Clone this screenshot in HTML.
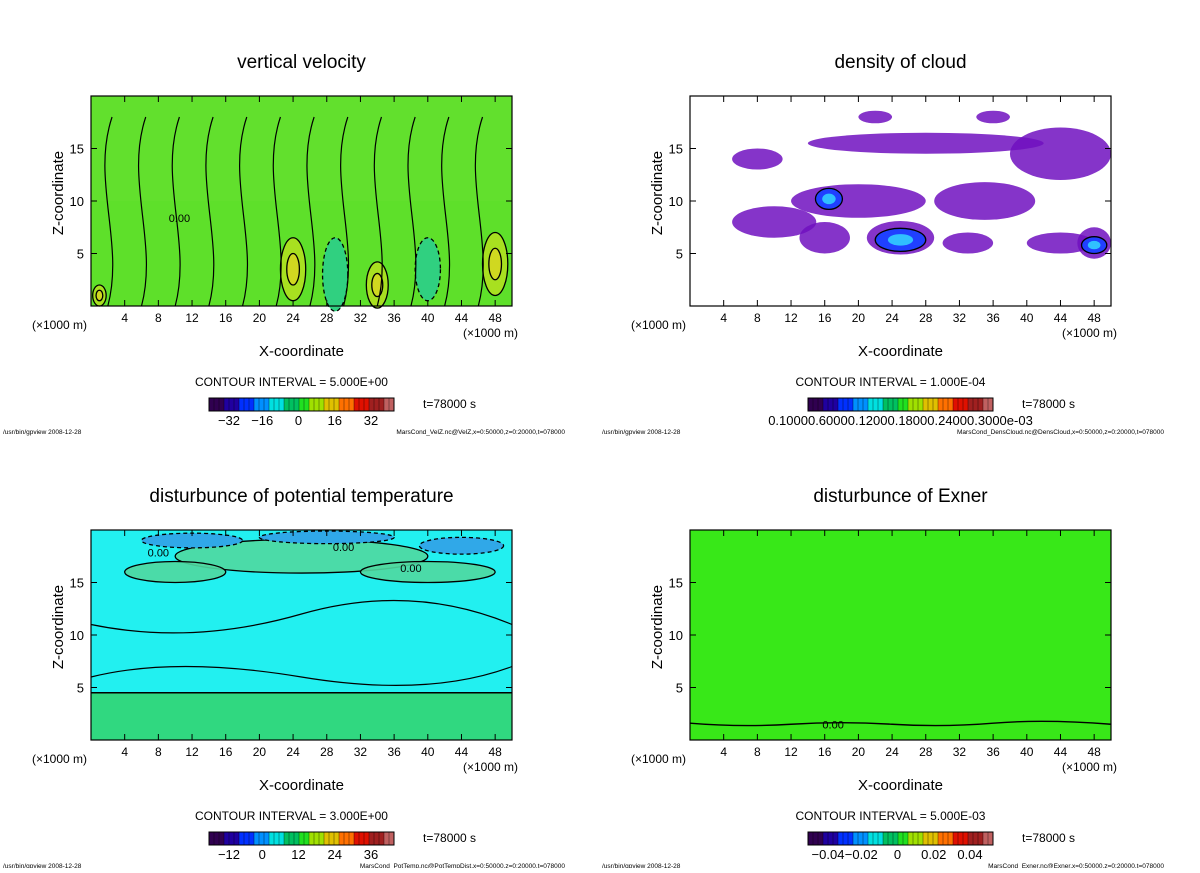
<!DOCTYPE html>
<html><head><meta charset="utf-8"><style>
body{margin:0;background:#fff;width:1200px;height:868px;overflow:hidden}
svg{font-family:"Liberation Sans",sans-serif}
</style></head><body>
<svg id="s" width="1200" height="868" viewBox="0 0 1200 868"></svg>
<script>
const xTicks=[4,8,12,16,20,24,28,32,36,40,44,48];
const zTicks=[5,10,15];
const titles=["vertical velocity","density of cloud","disturbunce of potential temperature","disturbunce of Exner"];
const intervals=["5.000E+00","1.000E-04","3.000E+00","5.000E-03"];
const cbLabels=[["-32","-16","0","16","32"],["0.10000.60000.12000.18000.24000.3000e-03"],["-12","0","12","24","36"],["-0.04","-0.02","0","0.02","0.04"]];
const files=["MarsCond_VelZ.nc@VelZ,x=0:50000,z=0:20000,t=078000","MarsCond_DensCloud.nc@DensCloud,x=0:50000,z=0:20000,t=078000","MarsCond_PotTemp.nc@PotTempDist,x=0:50000,z=0:20000,t=078000","MarsCond_Exner.nc@Exner,x=0:50000,z=0:20000,t=078000"];
// blobs: x, z, rx, rz (data units)
const velUp=[[24,3.5,1.5,3],[34,2,1.3,2.2],[48,4,1.5,3],[1,1,0.8,1]];
const velDown=[[29,3,1.5,3.5],[40,3.5,1.5,3]];
const cloudBlobs=[[10,8,5,1.5],[20,10,8,1.6],[35,10,6,1.8],[44,14.5,6,2.5],[28,15.5,14,1],[16,6.5,3,1.5],[25,6.5,4,1.6],[33,6,3,1],[44,6,4,1],[48,6,2,1.5],[8,14,3,1],[22,18,2,0.6],[36,18,2,0.6]];
const cloudCores=[[16.5,10.2,1.6,1],[25,6.3,3,1.1],[48,5.8,1.5,0.8]];
const ptWarm=[[25,17.5,15,1.6],[10,16,6,1],[40,16,8,1]];
const ptCold=[[12,19,6,0.7],[28,19.3,8,0.6],[44,18.5,5,0.8]];
const S=document.getElementById('s');
const NS="http://www.w3.org/2000/svg";
function el(t,a,p){const e=document.createElementNS(NS,t);for(const k in a)e.setAttribute(k,a[k]);(p||S).appendChild(e);return e;}
function txt(x,y,s,sz,anchor,p){const e=el('text',{x:x,y:y,'font-size':sz,'text-anchor':anchor||'middle',fill:'#000'},p);e.textContent=s;return e;}
const panels=[[91,96],[690,96],[91,530],[690,530]];
panels.forEach((P,i)=>{
 const g=el('g',{});
 
 
 const L=P[0],T=P[1],W=421,H=210;
 const X=v=>L+v/50*W, Z=v=>T+H-v/20*H;
 const t=txt(L+W/2,T-28,titles[i],19,'middle',g);
 
 
 const bgc=['#5ee02a','#ffffff','#22f0f0','#38e818'][i];
 const bg=el('rect',{x:L,y:T,width:W,height:H,fill:bgc},g);
 
 
 const ell=(b,fill,op,stroke,dash)=>{const e=el('ellipse',{cx:X(b[0]),cy:Z(b[1]),rx:b[2]/50*W,ry:b[3]/20*H,fill:fill,'fill-opacity':op,stroke:stroke||'none','stroke-width':1.3},g);if(dash)e.setAttribute('stroke-dasharray','4 3');return e;};
 if(i==0){
  el('rect',{x:L,y:Z(20),width:W,height:Z(10)-Z(20),fill:'#66e030','fill-opacity':0.5},g);
  velUp.forEach(b=>{const e=ell(b,'#a8e020',1,'#000');ell([b[0],b[1],b[2]*0.5,b[3]*0.5],'#d0d820',1,'#000');});
  velDown.forEach(b=>{const e=ell(b,'#30d080',1,'#000',true);});
  for(let k=0;k<12;k++){el('path',{d:`M${X(k*4+2)},${Z(0)} C${X(k*4+4)},${Z(6)} ${X(k*4)},${Z(12)} ${X(k*4+2.5)},${Z(18)}`,fill:'none',stroke:'#000','stroke-width':1.2},g);}
 }
 if(i==1){
  cloudBlobs.forEach(b=>{const e=ell(b,'#7010c0',0.85);});
  cloudCores.forEach(b=>{ell(b,'#2040ff',1,'#000');ell([b[0],b[1],b[2]*0.5,b[3]*0.5],'#30c0ff',1);});
 }
 if(i==2){
  el('rect',{x:L,y:Z(4.5),width:W,height:Z(0)-Z(4.5),fill:'#30d880'},g);
  el('line',{x1:L,y1:Z(4.5),x2:L+W,y2:Z(4.5),stroke:'#000','stroke-width':1.4},g);
  ptWarm.forEach(b=>{const e=ell(b,'#50d8a0',0.9,'#000');});
  ptCold.forEach(b=>{const e=ell(b,'#30a8e8',1,'#000',true);});
  el('path',{d:`M${L},${Z(6)} Q${X(10)},${Z(8)} ${X(25)},${Z(6)} T${X(50)},${Z(7)}`,fill:'none',stroke:'#000','stroke-width':1.2},g);
  el('path',{d:`M${L},${Z(11)} Q${X(12)},${Z(9)} ${X(25)},${Z(12)} T${X(50)},${Z(11)}`,fill:'none',stroke:'#000','stroke-width':1.2},g);
  txt(X(8),Z(17.5),'0.00',11,'middle',g);txt(X(30),Z(18),'0.00',11,'middle',g);txt(X(38),Z(16),'0.00',11,'middle',g);
 }
 if(i==3){
  el('path',{d:`M${L},${Z(1.6)} Q${X(6)},${Z(1.2)} ${X(12)},${Z(1.5)} T${X(24)},${Z(1.5)} T${X(36)},${Z(1.6)} T${X(50)},${Z(1.5)}`,fill:'none',stroke:'#000','stroke-width':1.4},g);
  txt(X(17),Z(1.1),'0.00',11,'middle',g);
 }
 if(i==0){txt(X(10.5),Z(8),'0.00',11,'middle',g);}
 el('rect',{x:L,y:T,width:W,height:H,fill:'none',stroke:'#000','stroke-width':1.2},g);
 xTicks.forEach(v=>{el('line',{x1:X(v),y1:T+H,x2:X(v),y2:T+H-6,stroke:'#000'},g);el('line',{x1:X(v),y1:T,x2:X(v),y2:T+6,stroke:'#000'},g);const l=txt(X(v),T+H+16,v,12,'middle',g);});
 zTicks.forEach(v=>{el('line',{x1:L,y1:Z(v),x2:L+6,y2:Z(v),stroke:'#000'},g);el('line',{x1:L+W,y1:Z(v),x2:L+W-6,y2:Z(v),stroke:'#000'},g);const l=txt(L-7,Z(v)+5,v,13,'end',g);});
 txt(L-59,T+H+23,'(×1000 m)',12,'start',g);
 txt(L+W+6,T+H+31,'(×1000 m)',12,'end',g);
 const xt=txt(L+W/2,T+H+50,'X-coordinate',15,'middle',g);
 const yt=txt(0,0,'Z-coordinate',15,'middle',g);yt.setAttribute('transform',`translate(${L-28},${T+H/2-8}) rotate(-90)`);
 txt(L+W/2-10,T+H+80,'CONTOUR INTERVAL = '+intervals[i],12,'middle',g);
 // colorbar
 const cbx=L+118,cby=T+H+92,cbw=185,cbh=13;
 const cols=['#300050','#2000a0','#0030ff','#0090ff','#00e0e0','#00c060','#20e020','#a0e000','#e0c000','#ff7000','#e01000','#a02020','#c06060'];
 const cb=el('g',{},g);
 for(let k=0;k<37;k++){el('rect',{x:cbx+k*cbw/37,y:cby,width:cbw/37+0.5,height:cbh,fill:cols[Math.floor(k/37*cols.length)]},cb);el('line',{x1:cbx+k*cbw/37,y1:cby,x2:cbx+k*cbw/37,y2:cby+cbh,stroke:'#000','stroke-opacity':0.35},cb);}
 el('rect',{x:cbx,y:cby,width:cbw,height:cbh,fill:'none',stroke:'#000'},cb);
 const lab=cbLabels[i];
 if(lab.length==1){txt(cbx+cbw/2,cby+27,lab[0],13,'middle',g);}
 else lab.forEach((s,k)=>{txt(cbx+17+k*(cbw-40)/4+ (k==0?3:0),cby+27,s.replace('-','−'),13,'middle',g);});
 txt(L+W-89,cby+10,'t=78000 s',12,'start',g);
 txt(L-88,T+H+128,'/usr/bin/gpview   2008-12-28',6.5,'start',g);
 txt(L+W+53,T+H+128,files[i],6.5,'end',g);
});
</script>
</body></html>
